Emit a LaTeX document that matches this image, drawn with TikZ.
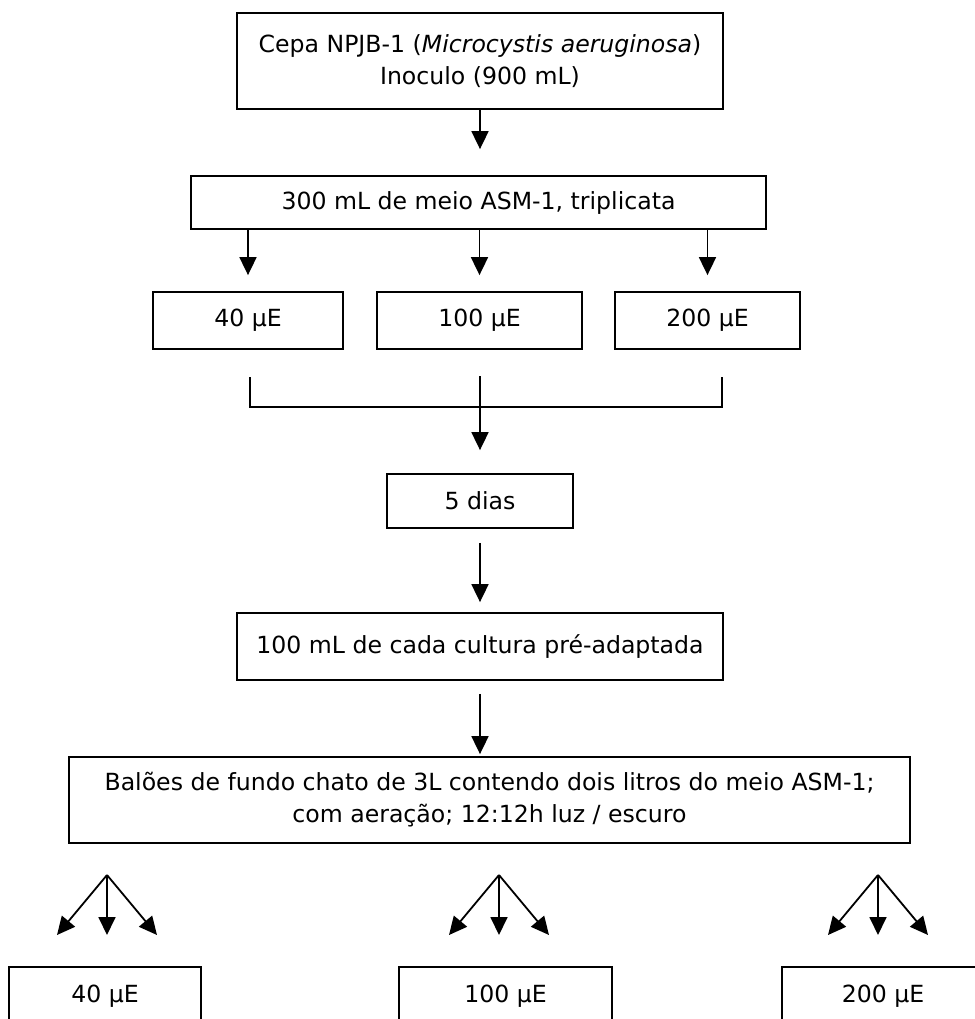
\documentclass[tikz,border=0pt]{standalone}
\usepackage{fontspec}
\setmainfont{DejaVu Sans}
\usetikzlibrary{arrows.meta}

\begin{document}
\begin{tikzpicture}[x=0.5pt, y=-0.5pt,
        box/.style={draw, line width=0.9pt, inner sep=0pt, align=center,
            font=\fontsize{11.8}{16}\selectfont},
        arr/.style={line width=0.9pt, -{Triangle[width=8.5pt, length=9pt]}}]
            \path [use as bounding box, clip] (0, 0) rectangle (975, 1019);

            \node [box, minimum width=243pt, minimum height=48pt] (cepa) at (480, 61)
                {Cepa NPJB-1 (\textit{Microcystis aeruginosa})\\Inoculo (900 mL)};
            \node [box, minimum width=287.5pt, minimum height=26.5pt] (meio) at (478.5, 202.5)
                {300 mL de meio ASM-1, triplicata};

            \node [box, minimum width=95pt, minimum height=28.5pt] (l40) at (248, 320.5) {40 µE};
            \node [box, minimum width=102.5pt, minimum height=28.5pt] (l100) at (479.5, 320.5) {100 µE};
            \node [box, minimum width=92.5pt, minimum height=28.5pt] (l200) at (707.5, 320.5) {200 µE};

            \node [box, minimum width=93pt, minimum height=27pt] (dias) at (480, 501) {5 dias};
            \node [box, minimum width=243pt, minimum height=33.5pt] (cultura) at (480, 646.5)
                {100 mL de cada cultura pré-adaptada};
            \node [box, minimum width=420.5pt, minimum height=43pt] (baloes) at (489.5, 800)
                {Balões de fundo chato de 3L contendo dois litros do meio ASM-1;\\
                 com aeração; 12:12h luz / escuro};

            \node [box, minimum width=96pt, minimum height=29pt] (b40) at (105, 996) {40 µE};
            \node [box, minimum width=106.5pt, minimum height=29pt] (b100) at (505.5, 996) {100 µE};
            \node [box, minimum width=101pt, minimum height=29pt] (b200) at (883, 996) {200 µE};

            \draw [arr, shorten >=13pt] (cepa.south) to (cepa.south |- meio.north);
            \foreach \n in {l40, l100, l200}
                \draw [arr, shorten >=8pt] (\n.north |- meio.south) to (\n.north);

            \coordinate (brL) at (250, 377);
            \coordinate (brR) at (722, 377);
            \coordinate (brM) at (480, 376);
            \draw [line width=0.9pt] (brL) -- ++(0, 30) -| (brR);
            \draw [arr, shorten >=11.5pt] (brM) to (dias.north);

            \draw [arr, shorten <=7pt, shorten >=5pt] (dias) to (cultura);
            \draw [arr, shorten <=6.5pt, shorten >=1pt] (cultura.south)
                to (cultura.south |- baloes.north);

            \coordinate (fan40) at (107, 875);
            \coordinate (fan100) at (499, 875);
            \coordinate (fan200) at (878, 875);
            \foreach \f in {fan40, fan100, fan200}
                \foreach \dx in {-50, 0, 50}
                    \draw [arr] (\f) -- ++(\dx, 60);

        \end{tikzpicture}
\end{document}
